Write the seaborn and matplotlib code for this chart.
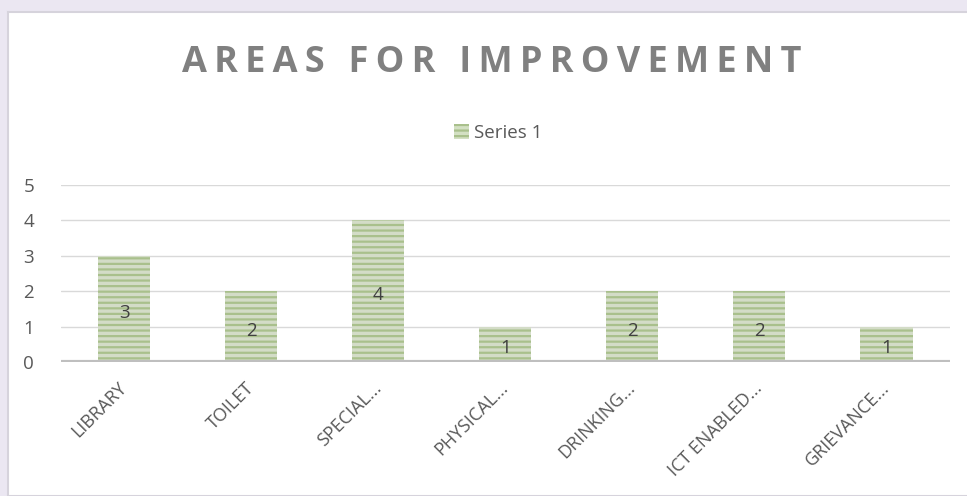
import pandas as pd
import matplotlib.pyplot as plt
import matplotlib.patches as mpatches
import matplotlib.transforms as mtransforms
import seaborn as sns

categories = ["LIBRARY", "TOILET", "SPECIAL...", "PHYSICAL...", "DRINKING...", "ICT ENABLED...", "GRIEVANCE..."]
series1 = [3, 2, 4, 1, 2, 2, 1]
title = "AREAS FOR IMPROVEMENT"

df = pd.DataFrame({"area": categories, "count": series1})

sns.set_theme(style="white")
plt.rcParams['font.family'] = ['Open Sans', 'DejaVu Sans']
plt.rcParams['hatch.linewidth'] = 1.6

fig = plt.figure(figsize=(9.67, 4.96), dpi=100)
fig.patch.set_facecolor("#ebe7f2")
# white chart panel behind everything
bg = fig.add_axes([8/967, 0, 1, 1 - 12/496], zorder=-1)
bg.set_facecolor("white")
bg.set_xticks([])
bg.set_yticks([])
for s in bg.spines.values():
    s.set_color("#d6d3dc")
    s.set_linewidth(1.5)

ax = fig.add_axes([60.5/967, 1 - 362/496, (950 - 60.5)/967, (362 - 185)/496])
ax.set_facecolor("none")

sns.barplot(data=df, x="area", y="count", ax=ax, width=0.41,
            color="#d3e0c3", linewidth=0, zorder=2)
for p in ax.patches:
    p.set_hatch("---")
    p.set_edgecolor("#a9c08c")
    p.set_linewidth(0)

ax.bar_label(ax.containers[0], label_type="center", padding=-3, fontsize=13.5, color="#404040")

ax.set_ylim(0, 5)
ax.set_yticks(range(6))
ax.grid(axis="y", color="#d9d9d9", linewidth=1, zorder=0)
ax.axhline(0, color="#bfbfbf", linewidth=3, zorder=3)
for s in ax.spines.values():
    s.set_visible(False)
ax.set_xlabel("")
ax.set_ylabel("")
ax.tick_params(axis="y", length=0, pad=19, labelsize=13.5, labelcolor="#595959")
ax.tick_params(axis="x", length=0, pad=12, labelsize=13, labelcolor="#595959")
offset = mtransforms.ScaledTranslation(-6/100, 0, fig.dpi_scale_trans)
for lbl in ax.get_xticklabels():
    lbl.set_rotation(45)
    lbl.set_ha("right")
    lbl.set_rotation_mode("anchor")
    lbl.set_transform(lbl.get_transform() + offset)

fig.text(0.509, 1 - 63/496, "\u200a\u200a".join(title), ha="center", va="center",
         fontsize=26, fontweight="bold", color="#808080")

handle = mpatches.Patch(facecolor="#d3e0c3", edgecolor="#a9c08c", hatch="---", linewidth=0, label="Series 1")
fig.legend(handles=[handle], loc="center", bbox_to_anchor=(0.515, 1 - 133/496), frameon=False,
           fontsize=13.5, labelcolor="#595959", handlelength=0.8, handleheight=0.8, handletextpad=0.3)

fig.savefig("out.png", dpi=100)
